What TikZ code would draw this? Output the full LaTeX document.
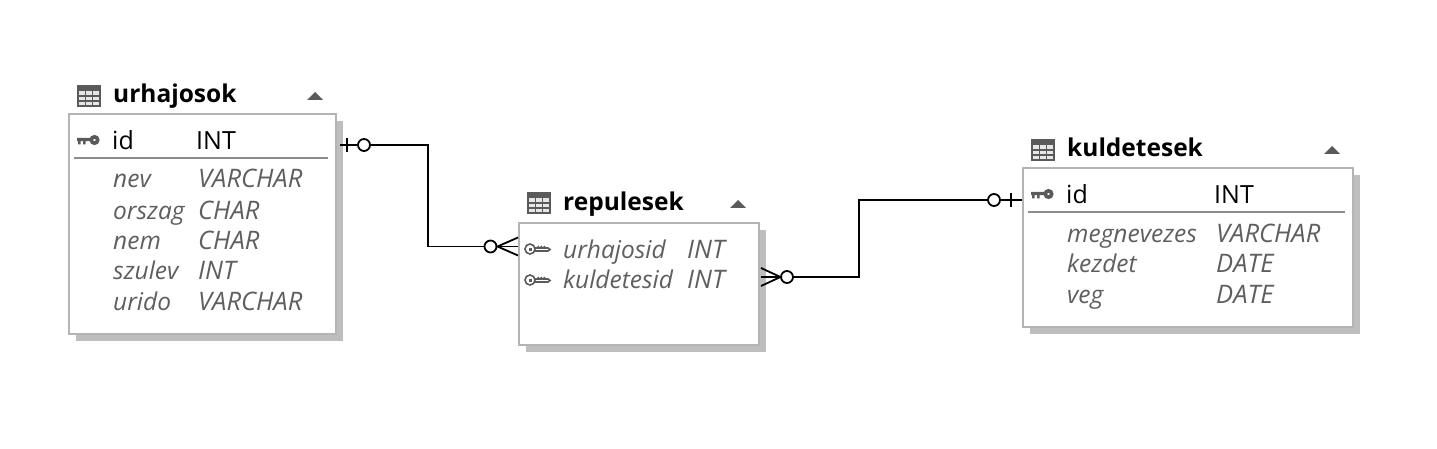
\documentclass[tikz,border=0pt]{standalone}
\usepackage{xcolor}
\usepackage{fontspec}
\setmainfont{Open Sans}
\definecolor{boxline}{HTML}{B4B4B4}
\definecolor{shadowgray}{HTML}{BEBEBE}
\definecolor{rulegray}{HTML}{8C8C8C}
\definecolor{icongray}{HTML}{5A5A5A}
\definecolor{coltext}{HTML}{5F5F5F}
\tikzset{
  tablebox/.style={draw=boxline,line width=1.6pt,fill=white,inner sep=0pt,outer sep=0pt,anchor=north west},
  tableshadow/.style={fill=shadowgray,inner sep=0pt,outer sep=0pt,anchor=north west},
  tabletitle/.style={inner sep=0pt,anchor=base west,yshift=-1pt,font=\fontsize{24.5}{24.5}\selectfont\bfseries},
  pkcol/.style={inner sep=0pt,anchor=base west,yshift=-1pt,font=\fontsize{25}{25}\selectfont},
  col/.style={inner sep=0pt,anchor=base west,yshift=-1pt,text=coltext,font=\fontsize{24.5}{24.5}\selectfont\itshape},
  coltype/.style={inner sep=0pt,anchor=base west,yshift=-1pt,text=coltext,font=\fontsize{25.5}{25.5}\selectfont\itshape},
  ring/.style={draw,circle,line width=1.8pt,minimum size=12pt,inner sep=0pt,fill=white},
  conn/.style={line width=1.8pt},
  tableicon/.pic={
    \fill[icongray!15] (0,0) rectangle (24,22);
    \draw[icongray,line width=1.6pt] (1,1) rectangle (23,21);
    \fill[icongray] (1,1) rectangle (23,6);
    \draw[icongray,line width=1.4pt] (1,11) -- (23,11) (1,16) -- (23,16) (8.5,6) -- (8.5,21) (15.5,6) -- (15.5,21);
  },
  keyicon/.pic={
    \draw[icongray,line width=3.6pt] (17.5,0) circle (3.2);
    \fill[icongray] (0,-2) rectangle (14,1.2) (1,1) rectangle (3.5,4.5) (6,1) rectangle (8.5,4.5);
  },
  fkeyicon/.pic={
    \draw[icongray,line width=1.6pt] (6,0) circle (5);
    \fill[icongray] (4.5,-1.5) rectangle (7.5,1.5);
    \draw[icongray,line width=1.6pt] (11,-1) -- (14,-1) (14,-3) -- (15,-1) (17,-3) -- (18,-1) (20,-3) -- (21,-1) (14,-1) -- (24,-1) -- (26,0.5) -- (24,2) -- (11,2);
  },
  sorticon/.pic={
    \fill[icongray] (-8,4) -- (0,-4) -- (8,4) -- cycle;
  }
}

\begin{document}
\begin{tikzpicture}[x=1pt,y=-1pt]
  \useasboundingbox (0,0) rectangle (1437,449);

  % urhajosok
  \node[tableshadow,minimum width=267pt,minimum height=220pt] (urhajosokshadow) at (76,121) {};
  \node[tablebox,minimum width=267pt,minimum height=220pt] (urhajosokbox) at (69,114) {};
  \pic at (77,85) {tableicon};
  \node[tabletitle] (urhajosoktitle) at (113,102) {urhajosok};
  \pic at (315,96) {sorticon};
  \pic at (77,140) {keyicon};
  \node[pkcol] (urhajosokid) at (112,149) {id};
  \node[pkcol] (urhajosokidtype) at (196,149) {INT};
  \draw[rulegray,line width=1.5pt] (74,158) -- (328,158);
  \node[col] (nev) at (113,187) {nev};
  \node[coltype] (nevtype) at (198,187) {VARCHAR};
  \node[col] (orszag) at (113,218) {orszag};
  \node[coltype] (orszagtype) at (198,218) {CHAR};
  \node[col] (nem) at (113,248) {nem};
  \node[coltype] (nemtype) at (198,248) {CHAR};
  \node[col] (szulev) at (113,278) {szulev};
  \node[coltype] (szulevtype) at (198,278) {INT};
  \node[col] (urido) at (113,309) {urido};
  \node[coltype] (uridotype) at (198,309) {VARCHAR};

  % repulesek
  \node[tableshadow,minimum width=240pt,minimum height=122pt] (repulesekshadow) at (526,230) {};
  \node[tablebox,minimum width=240pt,minimum height=122pt] (repulesekbox) at (519,223) {};
  \pic at (527,192) {tableicon};
  \node[tabletitle] (repulesektitle) at (563,210) {repulesek};
  \pic at (738,204) {sorticon};
  \pic at (524,249) {fkeyicon};
  \pic at (524,280) {fkeyicon};
  \node[col] (urhajosid) at (563,257) {urhajosid};
  \node[coltype] (urhajosidtype) at (687,257) {INT};
  \node[col] (kuldetesid) at (563,287) {kuldetesid};
  \node[coltype] (kuldetesidtype) at (687,287) {INT};

  % kuldetesek
  \node[tableshadow,minimum width=330pt,minimum height=159pt] (kuldetesekshadow) at (1030,175) {};
  \node[tablebox,minimum width=330pt,minimum height=159pt] (kuldetesekbox) at (1023,168) {};
  \pic at (1031,139) {tableicon};
  \node[tabletitle] (kuldetesektitle) at (1067,156) {kuldetesek};
  \pic at (1332,150) {sorticon};
  \pic at (1031,194) {keyicon};
  \node[pkcol] (kuldetesekid) at (1066,203) {id};
  \node[pkcol] (kuldetesekidtype) at (1214,203) {INT};
  \draw[rulegray,line width=1.5pt] (1028,212) -- (1345,212);
  \node[col] (megnevezes) at (1067,241) {megnevezes};
  \node[coltype] (megnevezestype) at (1216,241) {VARCHAR};
  \node[col] (kezdet) at (1067,271) {kezdet};
  \node[coltype] (kezdettype) at (1216,271) {DATE};
  \node[col] (veg) at (1067,302) {veg};
  \node[coltype] (vegtype) at (1216,302) {DATE};

  % urhajosok - repulesek
  \coordinate (urhajosokstub) at (340,145);
  \coordinate (urhajosokelbow) at (428,246.5);
  \coordinate (urhajosidend) at (518,246.5);
  \node[ring] (urhajosokring) at (364,145) {};
  \node[ring] (urhajosidring) at (490.5,246.5) {};
  \draw[conn] (urhajosokstub) -- (urhajosokring);
  \draw[conn] (347,138) -- (347,152);
  \draw[conn] (urhajosokring) -| (urhajosokelbow) -- (urhajosidring);
  \draw[conn] (urhajosidring) -- (urhajosidend);
  \draw[conn] (518,237.5) -- (497.5,246.5) -- (518,255.5);

  % repulesek - kuldetesek
  \coordinate (kuldetesidend) at (761,277);
  \coordinate (kuldetesidelbow) at (859,200);
  \coordinate (kuldetesekstub) at (1022,200);
  \node[ring] (kuldetesidring) at (787,277) {};
  \node[ring] (kuldetesekring) at (994,200) {};
  \draw[conn] (kuldetesidend) -- (kuldetesidring);
  \draw[conn] (761,268) -- (780.5,277) -- (761,286);
  \draw[conn] (kuldetesidring) -| (kuldetesidelbow) -- (kuldetesekring);
  \draw[conn] (kuldetesekring) -- (kuldetesekstub);
  \draw[conn] (1011,193) -- (1011,207);
\end{tikzpicture}
\end{document}
